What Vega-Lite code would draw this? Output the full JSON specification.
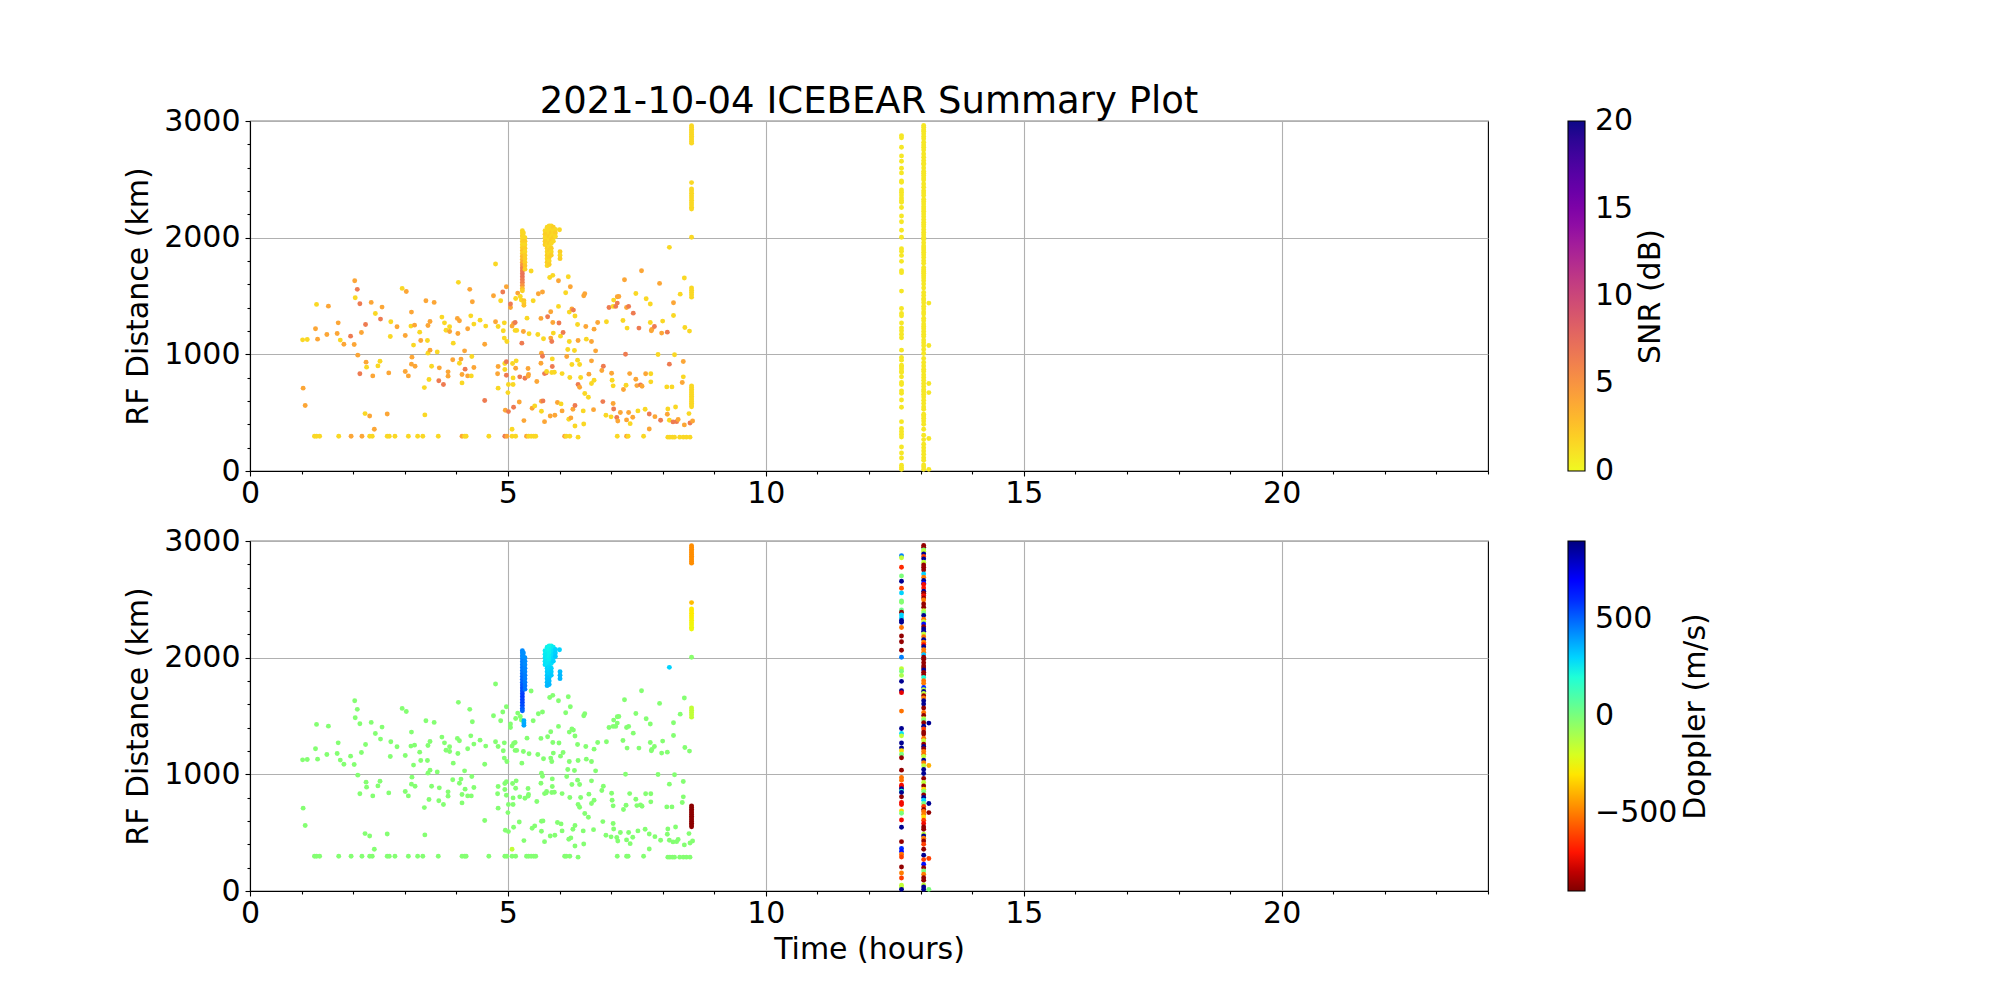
{
"$schema": "https://vega.github.io/schema/vega-lite/v6.json",
"background": "white",
"padding": {"left": 123, "top": 83, "right": 5, "bottom": 5},
"config": {
  "font": "DejaVu Sans",
  "view": {"stroke": "black", "strokeWidth": 1.1},
  "axis": {"labelFont": "DejaVu Sans", "titleFont": "DejaVu Sans", "labelFontSize": 30, "titleFontSize": 30, "titleFontWeight": "normal", "labelColor": "black", "titleColor": "black", "domainColor": "black", "tickColor": "black", "domainWidth": 1.1, "tickWidth": 1.1, "gridColor": "#b0b0b0", "gridWidth": 1.1},
  "legend": {"labelFont": "DejaVu Sans", "labelFontSize": 30, "labelColor": "black"}
},
"title": {"text": "2021-10-04 ICEBEAR Summary Plot", "fontSize": 37, "fontWeight": "normal", "font": "DejaVu Sans", "color": "black", "anchor": "middle", "frame": "group", "offset": -16},
"datasets": {"pts": [
{"t":1.02,"r":1124,"snr":1.5,"dop":-20},{"t":1.11,"r":1127,"snr":1.5,"dop":-20},{"t":1.03,"r":710,"snr":4,"dop":-20},{"t":1.07,"r":561,"snr":4,"dop":-20},{"t":1.27,"r":1219,"snr":4,"dop":-20},{"t":1.29,"r":1428,"snr":1.5,"dop":-20},{"t":1.31,"r":1130,"snr":4,"dop":-20},{"t":1.52,"r":1413,"snr":4,"dop":-20},{"t":1.49,"r":1170,"snr":4,"dop":-20},{"t":1.69,"r":1179,"snr":4,"dop":-20},{"t":1.71,"r":1270,"snr":4,"dop":-20},{"t":1.75,"r":1122,"snr":1.5,"dop":-20},{"t":1.82,"r":1087,"snr":4,"dop":-20},{"t":1.95,"r":1156,"snr":6.5,"dop":-20},{"t":2.02,"r":1084,"snr":4,"dop":-20},{"t":2.03,"r":1631,"snr":4,"dop":-20},{"t":2.08,"r":1557,"snr":6.5,"dop":-20},{"t":2.04,"r":1485,"snr":1.5,"dop":-20},{"t":2.13,"r":1433,"snr":6.5,"dop":-20},{"t":2.16,"r":1187,"snr":4,"dop":-20},{"t":2.24,"r":1256,"snr":6.5,"dop":-20},{"t":2.09,"r":993,"snr":4,"dop":-20},{"t":2.13,"r":833,"snr":6.5,"dop":-20},{"t":2.25,"r":933,"snr":4,"dop":-20},{"t":2.26,"r":890,"snr":1.5,"dop":-20},{"t":2.35,"r":1445,"snr":4,"dop":-20},{"t":2.43,"r":1350,"snr":1.5,"dop":-20},{"t":2.53,"r":1302,"snr":6.5,"dop":-20},{"t":2.56,"r":1405,"snr":4,"dop":-20},{"t":2.52,"r":941,"snr":1.5,"dop":-20},{"t":2.48,"r":901,"snr":1.5,"dop":-20},{"t":2.38,"r":815,"snr":4,"dop":-20},{"t":2.23,"r":492,"snr":1.5,"dop":-20},{"t":2.32,"r":472,"snr":4,"dop":-20},{"t":2.41,"r":358,"snr":4,"dop":-20},{"t":2.66,"r":489,"snr":4,"dop":-20},{"t":2.69,"r":841,"snr":4,"dop":-20},{"t":2.73,"r":1279,"snr":1.5,"dop":-20},{"t":2.72,"r":1153,"snr":1.5,"dop":-20},{"t":2.85,"r":1236,"snr":4,"dop":-20},{"t":2.95,"r":1565,"snr":1.5,"dop":-20},{"t":3.03,"r":1539,"snr":4,"dop":-20},{"t":3.01,"r":1162,"snr":4,"dop":-20},{"t":3.01,"r":853,"snr":4,"dop":-20},{"t":3.07,"r":815,"snr":4,"dop":-20},{"t":3.13,"r":1362,"snr":4,"dop":-20},{"t":3.12,"r":1242,"snr":1.5,"dop":-20},{"t":3.19,"r":1250,"snr":4,"dop":-20},{"t":3.17,"r":1079,"snr":1.5,"dop":-20},{"t":3.14,"r":976,"snr":4,"dop":-20},{"t":3.13,"r":916,"snr":4,"dop":-20},{"t":3.20,"r":898,"snr":4,"dop":-20},{"t":3.29,"r":1190,"snr":1.5,"dop":-20},{"t":3.31,"r":1119,"snr":4,"dop":-20},{"t":3.41,"r":1459,"snr":4,"dop":-20},{"t":3.44,"r":1119,"snr":1.5,"dop":-20},{"t":3.45,"r":1247,"snr":4,"dop":-20},{"t":3.49,"r":1282,"snr":4,"dop":-20},{"t":3.45,"r":1010,"snr":1.5,"dop":-20},{"t":3.49,"r":1036,"snr":4,"dop":-20},{"t":3.47,"r":784,"snr":1.5,"dop":-20},{"t":3.38,"r":715,"snr":1.5,"dop":-20},{"t":3.39,"r":481,"snr":1.5,"dop":-20},{"t":3.52,"r":898,"snr":1.5,"dop":-20},{"t":3.57,"r":1445,"snr":4,"dop":-20},{"t":3.63,"r":1021,"snr":1.5,"dop":-20},{"t":3.67,"r":884,"snr":4,"dop":-20},{"t":3.66,"r":773,"snr":6.5,"dop":-20},{"t":3.75,"r":741,"snr":6.5,"dop":-20},{"t":3.72,"r":1319,"snr":1.5,"dop":-20},{"t":3.77,"r":1270,"snr":1.5,"dop":-20},{"t":3.80,"r":1207,"snr":1.5,"dop":-20},{"t":3.87,"r":1196,"snr":4,"dop":-20},{"t":3.87,"r":1236,"snr":1.5,"dop":-20},{"t":3.84,"r":850,"snr":4,"dop":-20},{"t":3.84,"r":813,"snr":4,"dop":-20},{"t":3.93,"r":953,"snr":4,"dop":-20},{"t":3.94,"r":1096,"snr":1.5,"dop":-20},{"t":4.04,"r":1617,"snr":1.5,"dop":-20},{"t":4.02,"r":1308,"snr":4,"dop":-20},{"t":4.06,"r":1288,"snr":4,"dop":-20},{"t":4.03,"r":1179,"snr":4,"dop":-20},{"t":4.09,"r":959,"snr":4,"dop":-20},{"t":4.06,"r":924,"snr":1.5,"dop":-20},{"t":4.11,"r":827,"snr":4,"dop":-20},{"t":4.11,"r":755,"snr":1.5,"dop":-20},{"t":4.16,"r":1030,"snr":4,"dop":-20},{"t":4.17,"r":873,"snr":6.5,"dop":-20},{"t":4.22,"r":815,"snr":4,"dop":-20},{"t":4.22,"r":1219,"snr":4,"dop":-20},{"t":4.26,"r":1557,"snr":4,"dop":-20},{"t":4.28,"r":1330,"snr":1.5,"dop":-20},{"t":4.31,"r":1451,"snr":4,"dop":-20},{"t":4.29,"r":815,"snr":1.5,"dop":-20},{"t":4.34,"r":887,"snr":4,"dop":-20},{"t":4.34,"r":1259,"snr":1.5,"dop":-20},{"t":4.30,"r":981,"snr":1.5,"dop":-20},{"t":4.46,"r":1293,"snr":1.5,"dop":-20},{"t":4.57,"r":1242,"snr":1.5,"dop":-20},{"t":4.55,"r":1087,"snr":4,"dop":-20},{"t":4.55,"r":604,"snr":6.5,"dop":-20},{"t":4.76,"r":1774,"snr":1.5,"dop":-20},{"t":4.72,"r":1502,"snr":4,"dop":-20},{"t":4.76,"r":1279,"snr":4,"dop":-20},{"t":4.86,"r":1459,"snr":1.5,"dop":-20},{"t":4.81,"r":1239,"snr":1.5,"dop":-20},{"t":4.90,"r":1534,"snr":6.5,"dop":-20},{"t":4.97,"r":1579,"snr":4,"dop":-20},{"t":4.91,"r":1202,"snr":1.5,"dop":-20},{"t":4.93,"r":1139,"snr":1.5,"dop":-20},{"t":4.98,"r":1110,"snr":1.5,"dop":-20},{"t":4.93,"r":1270,"snr":1.5,"dop":-20},{"t":4.81,"r":896,"snr":4,"dop":-20},{"t":4.80,"r":833,"snr":4,"dop":-20},{"t":4.81,"r":710,"snr":1.5,"dop":-20},{"t":4.94,"r":921,"snr":1.5,"dop":-20},{"t":4.97,"r":936,"snr":6.5,"dop":-20},{"t":4.94,"r":870,"snr":1.5,"dop":-20},{"t":4.97,"r":821,"snr":6.5,"dop":-20},{"t":5.01,"r":741,"snr":1.5,"dop":-20},{"t":5.00,"r":672,"snr":1.5,"dop":-20},{"t":4.95,"r":521,"snr":4,"dop":-20},{"t":5.01,"r":509,"snr":6.5,"dop":-20},{"t":5.05,"r":1402,"snr":4,"dop":-20},{"t":5.05,"r":1431,"snr":6.5,"dop":-20},{"t":5.08,"r":1242,"snr":4,"dop":-20},{"t":5.11,"r":1265,"snr":4,"dop":-20},{"t":5.14,"r":1273,"snr":6.5,"dop":-20},{"t":5.14,"r":1205,"snr":1.5,"dop":-20},{"t":5.17,"r":1205,"snr":1.5,"dop":-20},{"t":5.16,"r":944,"snr":1.5,"dop":-20},{"t":5.09,"r":921,"snr":1.5,"dop":-20},{"t":5.15,"r":881,"snr":4,"dop":-20},{"t":5.10,"r":798,"snr":1.5,"dop":-20},{"t":5.10,"r":741,"snr":1.5,"dop":-20},{"t":5.11,"r":547,"snr":6.5,"dop":-20},{"t":5.15,"r":1479,"snr":1.5,"dop":-20},{"t":5.19,"r":1525,"snr":4,"dop":-20},{"t":5.24,"r":1496,"snr":1.5,"dop":-20},{"t":5.26,"r":1465,"snr":1.5,"dop":-20},{"t":5.27,"r":1096,"snr":6.5,"dop":-20},{"t":5.30,"r":1196,"snr":4,"dop":-20},{"t":5.23,"r":807,"snr":6.5,"dop":-20},{"t":5.33,"r":795,"snr":6.5,"dop":-20},{"t":5.31,"r":432,"snr":4,"dop":-20},{"t":5.22,"r":592,"snr":4,"dop":-20},{"t":5.37,"r":1310,"snr":1.5,"dop":-20},{"t":5.40,"r":827,"snr":4,"dop":-20},{"t":5.39,"r":878,"snr":4,"dop":-20},{"t":5.39,"r":813,"snr":4,"dop":-20},{"t":5.41,"r":1176,"snr":1.5,"dop":-20},{"t":5.45,"r":1714,"snr":1.5,"dop":-20},{"t":5.49,"r":1459,"snr":1.5,"dop":-20},{"t":5.47,"r":538,"snr":4,"dop":-20},{"t":5.52,"r":558,"snr":1.5,"dop":-20},{"t":5.56,"r":767,"snr":4,"dop":-20},{"t":5.58,"r":1170,"snr":1.5,"dop":-20},{"t":5.59,"r":1519,"snr":4,"dop":-20},{"t":5.64,"r":1308,"snr":4,"dop":-20},{"t":5.64,"r":924,"snr":4,"dop":-20},{"t":5.65,"r":598,"snr":4,"dop":-20},{"t":5.68,"r":601,"snr":6.5,"dop":-20},{"t":5.65,"r":512,"snr":1.5,"dop":-20},{"t":5.67,"r":1534,"snr":4,"dop":-20},{"t":5.65,"r":1010,"snr":4,"dop":-20},{"t":5.67,"r":984,"snr":6.5,"dop":-20},{"t":5.71,"r":835,"snr":6.5,"dop":-20},{"t":5.69,"r":1133,"snr":1.5,"dop":-20},{"t":5.71,"r":423,"snr":4,"dop":-20},{"t":5.74,"r":841,"snr":6.5,"dop":-20},{"t":5.77,"r":1322,"snr":6.5,"dop":-20},{"t":5.75,"r":853,"snr":1.5,"dop":-20},{"t":5.81,"r":1659,"snr":1.5,"dop":-20},{"t":5.83,"r":1365,"snr":4,"dop":-20},{"t":5.83,"r":1139,"snr":4,"dop":-20},{"t":5.85,"r":1110,"snr":6.5,"dop":-20},{"t":5.87,"r":1677,"snr":1.5,"dop":-20},{"t":5.87,"r":1273,"snr":4,"dop":-20},{"t":5.88,"r":1182,"snr":1.5,"dop":-20},{"t":5.86,"r":896,"snr":6.5,"dop":-20},{"t":5.86,"r":961,"snr":1.5,"dop":-20},{"t":5.85,"r":844,"snr":1.5,"dop":-20},{"t":5.82,"r":472,"snr":4,"dop":-20},{"t":5.90,"r":847,"snr":1.5,"dop":-20},{"t":5.91,"r":478,"snr":4,"dop":-20},{"t":5.98,"r":1631,"snr":4,"dop":-20},{"t":5.98,"r":1411,"snr":1.5,"dop":-20},{"t":5.99,"r":1268,"snr":6.5,"dop":-20},{"t":6.02,"r":1156,"snr":1.5,"dop":-20},{"t":5.96,"r":587,"snr":4,"dop":-20},{"t":6.03,"r":575,"snr":1.5,"dop":-20},{"t":6.05,"r":515,"snr":4,"dop":-20},{"t":6.07,"r":1187,"snr":6.5,"dop":-20},{"t":6.05,"r":835,"snr":1.5,"dop":-20},{"t":6.12,"r":1528,"snr":1.5,"dop":-20},{"t":6.14,"r":981,"snr":4,"dop":-20},{"t":6.16,"r":1041,"snr":1.5,"dop":-20},{"t":6.17,"r":1665,"snr":1.5,"dop":-20},{"t":6.19,"r":1362,"snr":1.5,"dop":-20},{"t":6.21,"r":1579,"snr":4,"dop":-20},{"t":6.19,"r":1110,"snr":1.5,"dop":-20},{"t":6.20,"r":801,"snr":1.5,"dop":-20},{"t":6.24,"r":913,"snr":1.5,"dop":-20},{"t":6.24,"r":1388,"snr":4,"dop":-20},{"t":6.27,"r":1379,"snr":6.5,"dop":-20},{"t":6.29,"r":1033,"snr":1.5,"dop":-20},{"t":6.26,"r":529,"snr":4,"dop":-20},{"t":6.18,"r":443,"snr":1.5,"dop":-20},{"t":6.22,"r":455,"snr":4,"dop":-20},{"t":6.30,"r":561,"snr":6.5,"dop":-20},{"t":6.30,"r":1328,"snr":1.5,"dop":-20},{"t":6.35,"r":1256,"snr":1.5,"dop":-20},{"t":6.36,"r":1119,"snr":4,"dop":-20},{"t":6.35,"r":950,"snr":1.5,"dop":-20},{"t":6.39,"r":913,"snr":1.5,"dop":-20},{"t":6.36,"r":741,"snr":6.5,"dop":-20},{"t":6.39,"r":718,"snr":4,"dop":-20},{"t":6.41,"r":801,"snr":1.5,"dop":-20},{"t":6.30,"r":386,"snr":1.5,"dop":-20},{"t":6.46,"r":515,"snr":1.5,"dop":-20},{"t":6.47,"r":1502,"snr":4,"dop":-20},{"t":6.49,"r":1519,"snr":4,"dop":-20},{"t":6.51,"r":1239,"snr":4,"dop":-20},{"t":6.52,"r":1130,"snr":1.5,"dop":-20},{"t":6.47,"r":403,"snr":1.5,"dop":-20},{"t":6.49,"r":664,"snr":1.5,"dop":-20},{"t":6.56,"r":632,"snr":1.5,"dop":-20},{"t":6.57,"r":830,"snr":4,"dop":-20},{"t":6.62,"r":1110,"snr":4,"dop":-20},{"t":6.62,"r":944,"snr":4,"dop":-20},{"t":6.62,"r":750,"snr":1.5,"dop":-20},{"t":6.67,"r":778,"snr":1.5,"dop":-20},{"t":6.66,"r":526,"snr":4,"dop":-20},{"t":6.67,"r":1216,"snr":4,"dop":-20},{"t":6.70,"r":1030,"snr":4,"dop":-20},{"t":6.74,"r":1273,"snr":4,"dop":-20},{"t":6.82,"r":861,"snr":4,"dop":-20},{"t":6.85,"r":898,"snr":6.5,"dop":-20},{"t":6.84,"r":595,"snr":6.5,"dop":-20},{"t":6.90,"r":478,"snr":1.5,"dop":-20},{"t":6.91,"r":1279,"snr":1.5,"dop":-20},{"t":6.96,"r":1402,"snr":6.5,"dop":-20},{"t":7.01,"r":838,"snr":4,"dop":-20},{"t":7.02,"r":778,"snr":1.5,"dop":-20},{"t":7.04,"r":578,"snr":4,"dop":-20},{"t":7.05,"r":532,"snr":6.5,"dop":-20},{"t":7.00,"r":464,"snr":1.5,"dop":-20},{"t":7.04,"r":1411,"snr":1.5,"dop":-20},{"t":7.05,"r":1465,"snr":1.5,"dop":-20},{"t":7.09,"r":1411,"snr":6.5,"dop":-20},{"t":7.12,"r":1439,"snr":6.5,"dop":-20},{"t":7.12,"r":1493,"snr":4,"dop":-20},{"t":7.04,"r":730,"snr":1.5,"dop":-20},{"t":7.11,"r":458,"snr":6.5,"dop":-20},{"t":7.13,"r":429,"snr":4,"dop":-20},{"t":7.18,"r":501,"snr":4,"dop":-20},{"t":7.15,"r":1496,"snr":4,"dop":-20},{"t":7.23,"r":1290,"snr":1.5,"dop":-20},{"t":7.26,"r":1639,"snr":4,"dop":-20},{"t":7.28,"r":1001,"snr":6.5,"dop":-20},{"t":7.30,"r":1402,"snr":4,"dop":-20},{"t":7.34,"r":1411,"snr":6.5,"dop":-20},{"t":7.31,"r":1225,"snr":1.5,"dop":-20},{"t":7.29,"r":735,"snr":1.5,"dop":-20},{"t":7.24,"r":698,"snr":4,"dop":-20},{"t":7.30,"r":438,"snr":4,"dop":-20},{"t":7.34,"r":501,"snr":4,"dop":-20},{"t":7.36,"r":835,"snr":4,"dop":-20},{"t":7.37,"r":406,"snr":1.5,"dop":-20},{"t":7.42,"r":461,"snr":4,"dop":-20},{"t":7.43,"r":1353,"snr":6.5,"dop":-20},{"t":7.48,"r":1522,"snr":1.5,"dop":-20},{"t":7.48,"r":787,"snr":4,"dop":-20},{"t":7.50,"r":732,"snr":4,"dop":-20},{"t":7.52,"r":515,"snr":1.5,"dop":-20},{"t":7.54,"r":1225,"snr":6.5,"dop":-20},{"t":7.57,"r":738,"snr":6.5,"dop":-20},{"t":7.60,"r":727,"snr":4,"dop":-20},{"t":7.59,"r":1717,"snr":4,"dop":-20},{"t":7.66,"r":529,"snr":1.5,"dop":-20},{"t":7.67,"r":833,"snr":4,"dop":-20},{"t":7.68,"r":1476,"snr":1.5,"dop":-20},{"t":7.74,"r":489,"snr":6.5,"dop":-20},{"t":7.74,"r":360,"snr":4,"dop":-20},{"t":7.76,"r":1431,"snr":1.5,"dop":-20},{"t":7.76,"r":1273,"snr":1.5,"dop":-20},{"t":7.77,"r":833,"snr":1.5,"dop":-20},{"t":7.77,"r":764,"snr":1.5,"dop":-20},{"t":7.78,"r":1202,"snr":4,"dop":-20},{"t":7.79,"r":1213,"snr":4,"dop":-20},{"t":7.84,"r":1239,"snr":6.5,"dop":-20},{"t":7.85,"r":466,"snr":4,"dop":-20},{"t":7.91,"r":999,"snr":1.5,"dop":-20},{"t":7.94,"r":1608,"snr":4,"dop":-20},{"t":7.96,"r":435,"snr":6.5,"dop":-20},{"t":7.98,"r":1182,"snr":4,"dop":-20},{"t":8.00,"r":1285,"snr":1.5,"dop":-20},{"t":8.08,"r":721,"snr":1.5,"dop":-20},{"t":8.09,"r":1190,"snr":6.5,"dop":-20},{"t":8.09,"r":486,"snr":4,"dop":-20},{"t":8.10,"r":532,"snr":1.5,"dop":-20},{"t":8.13,"r":916,"snr":6.5,"dop":-20},{"t":8.13,"r":435,"snr":1.5,"dop":-20},{"t":8.18,"r":721,"snr":1.5,"dop":-20},{"t":8.20,"r":421,"snr":6.5,"dop":-20},{"t":8.21,"r":1333,"snr":1.5,"dop":-20},{"t":8.21,"r":1442,"snr":4,"dop":-20},{"t":8.23,"r":996,"snr":1.5,"dop":-20},{"t":8.25,"r":549,"snr":1.5,"dop":-20},{"t":8.27,"r":423,"snr":6.5,"dop":-20},{"t":8.30,"r":441,"snr":4,"dop":-20},{"t":8.34,"r":1516,"snr":1.5,"dop":-20},{"t":8.38,"r":758,"snr":4,"dop":-20},{"t":8.40,"r":807,"snr":1.5,"dop":-20},{"t":8.40,"r":938,"snr":4,"dop":-20},{"t":8.42,"r":1654,"snr":1.5,"dop":-20},{"t":8.43,"r":1230,"snr":1.5,"dop":-20},{"t":8.42,"r":395,"snr":4,"dop":-20},{"t":8.51,"r":492,"snr":1.5,"dop":-20},{"t":8.52,"r":1199,"snr":1.5,"dop":-20},{"t":8.53,"r":412,"snr":6.5,"dop":-20},{"t":8.58,"r":429,"snr":4,"dop":-20},{"t":8.13,"r":1917,"snr":1.5,"dop":300},{"t":5.08,"r":358,"snr":1.5,"dop":-150},
{"t":1.25,"r":298,"snr":1.5,"dop":-20},{"t":1.29,"r":298,"snr":1.5,"dop":-20},{"t":1.35,"r":298,"snr":1.5,"dop":-20},{"t":1.72,"r":298,"snr":1.5,"dop":-20},{"t":1.96,"r":298,"snr":4,"dop":-20},{"t":2.17,"r":298,"snr":4,"dop":-20},{"t":2.32,"r":298,"snr":1.5,"dop":-20},{"t":2.37,"r":298,"snr":1.5,"dop":-20},{"t":2.66,"r":298,"snr":1.5,"dop":-20},{"t":2.70,"r":298,"snr":1.5,"dop":-20},{"t":2.81,"r":298,"snr":1.5,"dop":-20},{"t":3.07,"r":298,"snr":1.5,"dop":-20},{"t":3.25,"r":298,"snr":1.5,"dop":-20},{"t":3.35,"r":298,"snr":1.5,"dop":-20},{"t":3.65,"r":298,"snr":1.5,"dop":-20},{"t":4.11,"r":298,"snr":4,"dop":-20},{"t":4.16,"r":298,"snr":1.5,"dop":-20},{"t":4.19,"r":298,"snr":1.5,"dop":-20},{"t":4.63,"r":298,"snr":1.5,"dop":-20},{"t":4.94,"r":298,"snr":6.5,"dop":-20},{"t":4.98,"r":298,"snr":4,"dop":-20},{"t":5.08,"r":298,"snr":1.5,"dop":-20},{"t":5.15,"r":298,"snr":1.5,"dop":-20},{"t":5.36,"r":298,"snr":4,"dop":-20},{"t":5.40,"r":298,"snr":1.5,"dop":-20},{"t":5.45,"r":298,"snr":1.5,"dop":-20},{"t":5.50,"r":298,"snr":1.5,"dop":-20},{"t":5.54,"r":298,"snr":1.5,"dop":-20},{"t":6.10,"r":298,"snr":4,"dop":-20},{"t":6.13,"r":298,"snr":1.5,"dop":-20},{"t":6.20,"r":298,"snr":1.5,"dop":-20},{"t":6.36,"r":290,"snr":1.5,"dop":-20},{"t":7.12,"r":298,"snr":1.5,"dop":-20},{"t":7.30,"r":298,"snr":4,"dop":-20},{"t":7.33,"r":298,"snr":1.5,"dop":-20},{"t":7.63,"r":298,"snr":1.5,"dop":-20},{"t":8.10,"r":290,"snr":1.5,"dop":-20},{"t":8.14,"r":290,"snr":1.5,"dop":-20},{"t":8.19,"r":290,"snr":1.5,"dop":-20},{"t":8.23,"r":290,"snr":1.5,"dop":-20},{"t":8.33,"r":290,"snr":1.5,"dop":-20},{"t":8.40,"r":290,"snr":1.5,"dop":-20},{"t":8.46,"r":290,"snr":1.5,"dop":-20},{"t":8.53,"r":290,"snr":1.5,"dop":-20},
{"t":5.28,"r":2060,"snr":1.5,"dop":430},{"t":5.28,"r":2040,"snr":1.5,"dop":430},{"t":5.28,"r":2015,"snr":2,"dop":440},{"t":5.28,"r":1990,"snr":1.5,"dop":440},{"t":5.28,"r":1965,"snr":2,"dop":450},{"t":5.28,"r":1940,"snr":1.5,"dop":450},{"t":5.28,"r":1915,"snr":2,"dop":460},{"t":5.28,"r":1890,"snr":2.5,"dop":460},{"t":5.28,"r":1865,"snr":2,"dop":470},{"t":5.28,"r":1840,"snr":3,"dop":480},{"t":5.28,"r":1815,"snr":3,"dop":490},{"t":5.28,"r":1790,"snr":4,"dop":500},{"t":5.28,"r":1765,"snr":5,"dop":520},{"t":5.28,"r":1740,"snr":6,"dop":530},{"t":5.28,"r":1715,"snr":6.5,"dop":540},{"t":5.28,"r":1690,"snr":7,"dop":560},{"t":5.28,"r":1665,"snr":7,"dop":570},{"t":5.28,"r":1640,"snr":6.5,"dop":560},{"t":5.28,"r":1615,"snr":6,"dop":550},{"t":5.28,"r":1590,"snr":5,"dop":540},{"t":5.28,"r":1565,"snr":3,"dop":520},{"t":5.28,"r":1545,"snr":2,"dop":500},
{"t":5.33,"r":2000,"snr":1.5,"dop":420},{"t":5.33,"r":1970,"snr":2,"dop":430},{"t":5.33,"r":1940,"snr":1.5,"dop":430},{"t":5.33,"r":1910,"snr":2,"dop":440},{"t":5.33,"r":1880,"snr":1.5,"dop":440},{"t":5.33,"r":1850,"snr":2,"dop":450},{"t":5.33,"r":1820,"snr":2,"dop":450},{"t":5.33,"r":1790,"snr":2,"dop":460},{"t":5.33,"r":1760,"snr":2.5,"dop":470},{"t":5.33,"r":1730,"snr":2,"dop":470},{"t":5.30,"r":2040,"snr":1.5,"dop":420},{"t":5.30,"r":2010,"snr":1.5,"dop":420},{"t":5.31,"r":1460,"snr":2.5,"dop":370},{"t":5.31,"r":1440,"snr":2,"dop":370},{"t":5.31,"r":1420,"snr":2.5,"dop":380},
{"t":5.72,"r":2060,"snr":1.5,"dop":260},{"t":5.72,"r":2030,"snr":2,"dop":260},{"t":5.72,"r":2000,"snr":1.5,"dop":270},{"t":5.72,"r":1970,"snr":2,"dop":270},{"t":5.72,"r":1940,"snr":2,"dop":280},{"t":5.76,"r":2090,"snr":1.5,"dop":250},{"t":5.76,"r":2060,"snr":1.5,"dop":250},{"t":5.76,"r":2030,"snr":2,"dop":260},{"t":5.76,"r":2000,"snr":1.5,"dop":260},{"t":5.76,"r":1970,"snr":2,"dop":270},{"t":5.76,"r":1940,"snr":1.5,"dop":270},{"t":5.80,"r":2100,"snr":1.5,"dop":240},{"t":5.80,"r":2070,"snr":1.5,"dop":240},{"t":5.80,"r":2040,"snr":1.5,"dop":250},{"t":5.80,"r":2010,"snr":2,"dop":250},{"t":5.80,"r":1980,"snr":1.5,"dop":260},{"t":5.80,"r":1950,"snr":2,"dop":270},{"t":5.84,"r":2100,"snr":1.5,"dop":240},{"t":5.84,"r":2070,"snr":1.5,"dop":250},{"t":5.84,"r":2040,"snr":2,"dop":250},{"t":5.84,"r":2010,"snr":1.5,"dop":260},{"t":5.84,"r":1980,"snr":2,"dop":260},{"t":5.84,"r":1950,"snr":1.5,"dop":280},{"t":5.88,"r":2090,"snr":2,"dop":260},{"t":5.88,"r":2060,"snr":1.5,"dop":270},{"t":5.88,"r":2030,"snr":1.5,"dop":280},{"t":5.88,"r":2000,"snr":2,"dop":290},{"t":5.88,"r":1970,"snr":1.5,"dop":300},{"t":5.92,"r":2070,"snr":1.5,"dop":300},{"t":5.92,"r":2040,"snr":2,"dop":310},{"t":5.92,"r":2010,"snr":1.5,"dop":320},{"t":5.76,"r":1910,"snr":2,"dop":300},{"t":5.76,"r":1880,"snr":1.5,"dop":310},{"t":5.76,"r":1850,"snr":2,"dop":320},{"t":5.76,"r":1820,"snr":1.5,"dop":330},{"t":5.76,"r":1790,"snr":2,"dop":340},{"t":5.76,"r":1760,"snr":1.5,"dop":350},{"t":5.80,"r":1920,"snr":1.5,"dop":290},{"t":5.80,"r":1890,"snr":2,"dop":300},{"t":5.80,"r":1860,"snr":1.5,"dop":310},{"t":5.80,"r":1830,"snr":2,"dop":330},{"t":5.80,"r":1800,"snr":1.5,"dop":340},{"t":5.80,"r":1770,"snr":2,"dop":350},{"t":5.84,"r":1910,"snr":2,"dop":300},{"t":5.84,"r":1880,"snr":1.5,"dop":310},{"t":5.84,"r":1850,"snr":2,"dop":320},{"t":6.00,"r":2068,"snr":1.5,"dop":300},{"t":6.01,"r":1880,"snr":2,"dop":340},{"t":6.01,"r":1850,"snr":1.5,"dop":350},{"t":6.01,"r":1820,"snr":2,"dop":350},
{"t":8.56,"r":2960,"snr":1.5,"dop":-470},{"t":8.56,"r":2945,"snr":1.5,"dop":-470},{"t":8.56,"r":2930,"snr":1.5,"dop":-470},{"t":8.56,"r":2915,"snr":1.5,"dop":-470},{"t":8.56,"r":2900,"snr":1.5,"dop":-470},{"t":8.56,"r":2885,"snr":1.5,"dop":-470},{"t":8.56,"r":2870,"snr":1.5,"dop":-470},{"t":8.56,"r":2855,"snr":1.5,"dop":-470},{"t":8.56,"r":2840,"snr":1.5,"dop":-470},{"t":8.56,"r":2825,"snr":1.5,"dop":-470},{"t":8.56,"r":2810,"snr":1.5,"dop":-470},{"t":8.56,"r":2472,"snr":1.5,"dop":-380},{"t":8.56,"r":2418,"snr":1.5,"dop":-290},{"t":8.56,"r":2400,"snr":1.5,"dop":-290},{"t":8.56,"r":2380,"snr":1.5,"dop":-290},{"t":8.56,"r":2360,"snr":1.5,"dop":-290},{"t":8.56,"r":2340,"snr":1.5,"dop":-280},{"t":8.56,"r":2320,"snr":1.5,"dop":-270},{"t":8.56,"r":2300,"snr":1.5,"dop":-260},{"t":8.56,"r":2280,"snr":1.5,"dop":-260},{"t":8.56,"r":2260,"snr":1.5,"dop":-250},{"t":8.56,"r":2246,"snr":1.5,"dop":-250},{"t":8.56,"r":2003,"snr":1.5,"dop":-30},{"t":8.56,"r":1568,"snr":1.5,"dop":-150},{"t":8.56,"r":1550,"snr":1.5,"dop":-150},{"t":8.56,"r":1530,"snr":1.5,"dop":-150},{"t":8.56,"r":1510,"snr":1.5,"dop":-150},{"t":8.56,"r":1490,"snr":1.5,"dop":-150},{"t":8.56,"r":730,"snr":1.5,"dop":-880},{"t":8.56,"r":715,"snr":1.5,"dop":-880},{"t":8.56,"r":700,"snr":1.5,"dop":-880},{"t":8.56,"r":685,"snr":1.5,"dop":-880},{"t":8.56,"r":670,"snr":1.5,"dop":-880},{"t":8.56,"r":655,"snr":1.5,"dop":-880},{"t":8.56,"r":640,"snr":1.5,"dop":-880},{"t":8.56,"r":625,"snr":1.5,"dop":-880},{"t":8.56,"r":610,"snr":1.5,"dop":-880},{"t":8.56,"r":595,"snr":1.5,"dop":-880},{"t":8.56,"r":580,"snr":1.5,"dop":-880},{"t":8.56,"r":565,"snr":1.5,"dop":-880},{"t":8.56,"r":550,"snr":1.5,"dop":-880},
{"t":12.63,"r":2875,"snr":0.8,"dop":450},{"t":12.63,"r":2856,"snr":0.8,"dop":-150},{"t":12.63,"r":2775,"snr":0.8,"dop":-660},{"t":12.63,"r":2701,"snr":0.8,"dop":0},{"t":12.63,"r":2655,"snr":0.8,"dop":870},{"t":12.63,"r":2595,"snr":0.8,"dop":-620},{"t":12.63,"r":2555,"snr":0.8,"dop":300},{"t":12.63,"r":2486,"snr":0.8,"dop":0},{"t":12.63,"r":2475,"snr":0.8,"dop":-20},{"t":12.63,"r":2409,"snr":0.8,"dop":30},{"t":12.63,"r":2389,"snr":0.8,"dop":-870},{"t":12.63,"r":2366,"snr":0.8,"dop":300},{"t":12.63,"r":2341,"snr":0.8,"dop":300},{"t":12.63,"r":2318,"snr":0.8,"dop":870},{"t":12.63,"r":2303,"snr":0.8,"dop":870},{"t":12.63,"r":2258,"snr":0.8,"dop":-520},{"t":12.63,"r":2186,"snr":0.8,"dop":-870},{"t":12.63,"r":2137,"snr":0.8,"dop":-870},{"t":12.63,"r":2063,"snr":0.8,"dop":-870},{"t":12.63,"r":2003,"snr":0.8,"dop":450},{"t":12.63,"r":1906,"snr":0.8,"dop":-150},{"t":12.63,"r":1883,"snr":0.8,"dop":0},{"t":12.63,"r":1848,"snr":0.8,"dop":-100},{"t":12.63,"r":1797,"snr":0.8,"dop":870},{"t":12.63,"r":1717,"snr":0.8,"dop":870},{"t":12.63,"r":1700,"snr":0.8,"dop":-740},{"t":12.63,"r":1542,"snr":0.8,"dop":-520},{"t":12.63,"r":1393,"snr":0.8,"dop":870},{"t":12.63,"r":1350,"snr":0.8,"dop":280},{"t":12.63,"r":1330,"snr":0.8,"dop":-150},{"t":12.63,"r":1268,"snr":0.8,"dop":870},{"t":12.63,"r":1227,"snr":0.8,"dop":870},{"t":12.63,"r":1202,"snr":0.8,"dop":-320},{"t":12.63,"r":1173,"snr":0.8,"dop":0},{"t":12.63,"r":1142,"snr":0.8,"dop":-870},{"t":12.63,"r":1036,"snr":0.8,"dop":-870},{"t":12.63,"r":973,"snr":0.8,"dop":-520},{"t":12.63,"r":950,"snr":0.8,"dop":-520},{"t":12.63,"r":907,"snr":0.8,"dop":-720},{"t":12.63,"r":893,"snr":0.8,"dop":-720},{"t":12.63,"r":876,"snr":0.8,"dop":870},{"t":12.63,"r":856,"snr":0.8,"dop":200},{"t":12.63,"r":844,"snr":0.8,"dop":870},{"t":12.63,"r":807,"snr":0.8,"dop":-870},{"t":12.63,"r":758,"snr":0.8,"dop":-720},{"t":12.63,"r":741,"snr":0.8,"dop":-720},{"t":12.63,"r":687,"snr":0.8,"dop":-320},{"t":12.63,"r":667,"snr":0.8,"dop":0},{"t":12.63,"r":609,"snr":0.8,"dop":-720},{"t":12.63,"r":546,"snr":0.8,"dop":870},{"t":12.63,"r":423,"snr":0.8,"dop":-870},{"t":12.63,"r":365,"snr":0.8,"dop":600},{"t":12.63,"r":338,"snr":0.8,"dop":650},{"t":12.63,"r":315,"snr":0.8,"dop":-520},{"t":12.63,"r":292,"snr":0.8,"dop":-620},{"t":12.63,"r":206,"snr":0.8,"dop":-870},{"t":12.63,"r":154,"snr":0.8,"dop":-500},{"t":12.63,"r":112,"snr":0.8,"dop":-620},{"t":12.63,"r":49,"snr":0.8,"dop":-150},{"t":12.63,"r":29,"snr":0.8,"dop":-150},{"t":12.63,"r":14,"snr":0.8,"dop":870},
{"t":13.06,"r":2961,"snr":0.8,"dop":-870},{"t":13.06,"r":2947,"snr":0.8,"dop":-870},{"t":13.06,"r":2924,"snr":0.8,"dop":0},{"t":13.06,"r":2913,"snr":0.8,"dop":-150},{"t":13.06,"r":2890,"snr":0.8,"dop":870},{"t":13.06,"r":2867,"snr":0.8,"dop":-620},{"t":13.06,"r":2847,"snr":0.8,"dop":870},{"t":13.06,"r":2818,"snr":0.8,"dop":-150},{"t":13.06,"r":2795,"snr":0.8,"dop":-870},{"t":13.06,"r":2775,"snr":0.8,"dop":-860},{"t":13.06,"r":2752,"snr":0.8,"dop":-870},{"t":13.06,"r":2718,"snr":0.8,"dop":300},{"t":13.06,"r":2690,"snr":0.8,"dop":-500},{"t":13.06,"r":2661,"snr":0.8,"dop":870},{"t":13.06,"r":2638,"snr":0.8,"dop":650},{"t":13.06,"r":2627,"snr":0.8,"dop":-720},{"t":13.06,"r":2598,"snr":0.8,"dop":-700},{"t":13.06,"r":2569,"snr":0.8,"dop":870},{"t":13.06,"r":2552,"snr":0.8,"dop":-870},{"t":13.06,"r":2532,"snr":0.8,"dop":-720},{"t":13.06,"r":2512,"snr":0.8,"dop":-860},{"t":13.06,"r":2495,"snr":0.8,"dop":-500},{"t":13.06,"r":2461,"snr":0.8,"dop":-870},{"t":13.06,"r":2432,"snr":0.8,"dop":-870},{"t":13.06,"r":2403,"snr":0.8,"dop":-150},{"t":13.06,"r":2383,"snr":0.8,"dop":0},{"t":13.06,"r":2361,"snr":0.8,"dop":870},{"t":13.06,"r":2329,"snr":0.8,"dop":-520},{"t":13.06,"r":2309,"snr":0.8,"dop":-150},{"t":13.06,"r":2289,"snr":0.8,"dop":650},{"t":13.06,"r":2266,"snr":0.8,"dop":-870},{"t":13.06,"r":2246,"snr":0.8,"dop":870},{"t":13.06,"r":2226,"snr":0.8,"dop":860},{"t":13.06,"r":2203,"snr":0.8,"dop":-150},{"t":13.06,"r":2180,"snr":0.8,"dop":-520},{"t":13.06,"r":2155,"snr":0.8,"dop":870},{"t":13.06,"r":2132,"snr":0.8,"dop":-500},{"t":13.06,"r":2112,"snr":0.8,"dop":-720},{"t":13.06,"r":2094,"snr":0.8,"dop":870},{"t":13.06,"r":2069,"snr":0.8,"dop":-500},{"t":13.06,"r":2046,"snr":0.8,"dop":-520},{"t":13.06,"r":2026,"snr":0.8,"dop":330},{"t":13.06,"r":2003,"snr":0.8,"dop":-870},{"t":13.06,"r":1986,"snr":0.8,"dop":-870},{"t":13.06,"r":1957,"snr":0.8,"dop":-870},{"t":13.06,"r":1928,"snr":0.8,"dop":-870},{"t":13.06,"r":1911,"snr":0.8,"dop":-870},{"t":13.06,"r":1894,"snr":0.8,"dop":870},{"t":13.06,"r":1874,"snr":0.8,"dop":-870},{"t":13.06,"r":1854,"snr":0.8,"dop":-870},{"t":13.06,"r":1831,"snr":0.8,"dop":200},{"t":13.06,"r":1803,"snr":0.8,"dop":-520},{"t":13.06,"r":1780,"snr":0.8,"dop":-500},{"t":13.06,"r":1745,"snr":0.8,"dop":600},{"t":13.06,"r":1725,"snr":0.8,"dop":-150},{"t":13.06,"r":1711,"snr":0.8,"dop":870},{"t":13.06,"r":1694,"snr":0.8,"dop":-150},{"t":13.06,"r":1674,"snr":0.8,"dop":-870},{"t":13.06,"r":1654,"snr":0.8,"dop":-500},{"t":13.06,"r":1631,"snr":0.8,"dop":870},{"t":13.06,"r":1602,"snr":0.8,"dop":870},{"t":13.06,"r":1568,"snr":0.8,"dop":-870},{"t":13.06,"r":1531,"snr":0.8,"dop":-520},{"t":13.06,"r":1505,"snr":0.8,"dop":-870},{"t":13.06,"r":1476,"snr":0.8,"dop":-150},{"t":13.06,"r":1465,"snr":0.8,"dop":0},{"t":13.06,"r":1442,"snr":0.8,"dop":-870},{"t":13.06,"r":1413,"snr":0.8,"dop":870},{"t":13.06,"r":1388,"snr":0.8,"dop":-620},{"t":13.06,"r":1362,"snr":0.8,"dop":-870},{"t":13.06,"r":1345,"snr":0.8,"dop":-870},{"t":13.06,"r":1310,"snr":0.8,"dop":-520},{"t":13.06,"r":1288,"snr":0.8,"dop":-150},{"t":13.06,"r":1259,"snr":0.8,"dop":-870},{"t":13.06,"r":1239,"snr":0.8,"dop":870},{"t":13.06,"r":1219,"snr":0.8,"dop":-870},{"t":13.06,"r":1196,"snr":0.8,"dop":-500},{"t":13.06,"r":1173,"snr":0.8,"dop":-520},{"t":13.06,"r":1153,"snr":0.8,"dop":-150},{"t":13.06,"r":1122,"snr":0.8,"dop":870},{"t":13.06,"r":1099,"snr":0.8,"dop":-500},{"t":13.06,"r":1073,"snr":0.8,"dop":-150},{"t":13.06,"r":1041,"snr":0.8,"dop":870},{"t":13.06,"r":1007,"snr":0.8,"dop":870},{"t":13.06,"r":964,"snr":0.8,"dop":-870},{"t":13.06,"r":930,"snr":0.8,"dop":-150},{"t":13.06,"r":901,"snr":0.8,"dop":-870},{"t":13.06,"r":873,"snr":0.8,"dop":-320},{"t":13.06,"r":853,"snr":0.8,"dop":0},{"t":13.06,"r":824,"snr":0.8,"dop":-870},{"t":13.06,"r":801,"snr":0.8,"dop":870},{"t":13.06,"r":778,"snr":0.8,"dop":300},{"t":13.06,"r":750,"snr":0.8,"dop":0},{"t":13.06,"r":724,"snr":0.8,"dop":-620},{"t":13.06,"r":698,"snr":0.8,"dop":-870},{"t":13.06,"r":681,"snr":0.8,"dop":-520},{"t":13.06,"r":658,"snr":0.8,"dop":-500},{"t":13.06,"r":635,"snr":0.8,"dop":-320},{"t":13.06,"r":607,"snr":0.8,"dop":-620},{"t":13.06,"r":578,"snr":0.8,"dop":-720},{"t":13.06,"r":549,"snr":0.8,"dop":-870},{"t":13.06,"r":529,"snr":0.8,"dop":-870},{"t":13.06,"r":486,"snr":0.8,"dop":-150},{"t":13.06,"r":472,"snr":0.8,"dop":870},{"t":13.06,"r":452,"snr":0.8,"dop":-500},{"t":13.06,"r":429,"snr":0.8,"dop":-870},{"t":13.06,"r":401,"snr":0.8,"dop":-620},{"t":13.06,"r":358,"snr":0.8,"dop":-870},{"t":13.06,"r":306,"snr":0.8,"dop":870},{"t":13.06,"r":269,"snr":0.8,"dop":-620},{"t":13.06,"r":229,"snr":0.8,"dop":650},{"t":13.06,"r":200,"snr":0.8,"dop":-870},{"t":13.06,"r":172,"snr":0.8,"dop":0},{"t":13.06,"r":143,"snr":0.8,"dop":-500},{"t":13.06,"r":114,"snr":0.8,"dop":-870},{"t":13.06,"r":92,"snr":0.8,"dop":-870},{"t":13.06,"r":52,"snr":0.8,"dop":-150},{"t":13.06,"r":34,"snr":0.8,"dop":870},{"t":13.06,"r":14,"snr":0.8,"dop":870},
{"t":13.16,"r":1439,"snr":0.8,"dop":870},{"t":13.16,"r":1076,"snr":0.8,"dop":-400},{"t":13.16,"r":750,"snr":0.8,"dop":870},{"t":13.16,"r":672,"snr":0.8,"dop":-870},{"t":13.16,"r":278,"snr":0.8,"dop":-620},{"t":13.16,"r":14,"snr":0.8,"dop":0}
]},
"vconcat": [
{
  "width": 1238, "height": 350,
  "data": {"name": "pts"},
  "layer": [
    {"mark": {"type": "circle", "size": 24, "opacity": 1},
     "encoding": {
       "x": {"field": "t", "type": "quantitative", "scale": {"domain": [0, 24], "nice": false, "zero": false},
             "axis": {"title": null, "values": [0,1,2,3,4,5,6,7,8,9,10,11,12,13,14,15,16,17,18,19,20,21,22,23,24], "format": "d", "labelExpr": "datum.value % 5 === 0 ? datum.label : ''", "tickSize": {"condition": {"test": "datum.value % 5 === 0", "value": 5}, "value": 3}, "gridOpacity": {"condition": {"test": "datum.value % 5 === 0", "value": 1}, "value": 0}, "labelPadding": 2, "labelFlush": false, "labelOverlap": false}},
       "y": {"field": "r", "type": "quantitative", "scale": {"domain": [0, 3000], "nice": false},
             "axis": {"title": "RF Distance (km)", "values": [0,200,400,600,800,1000,1200,1400,1600,1800,2000,2200,2400,2600,2800,3000], "format": "d", "labelExpr": "datum.value % 1000 === 0 ? datum.label : ''", "tickSize": {"condition": {"test": "datum.value % 1000 === 0", "value": 5}, "value": 3}, "gridOpacity": {"condition": {"test": "datum.value % 1000 === 0", "value": 1}, "value": 0}, "labelPadding": 5, "labelFlush": false, "labelOverlap": false, "titlePadding": 10}},
       "color": {"field": "snr", "type": "quantitative", "scale": {"scheme": "plasma", "reverse": true, "domain": [-0.01, 20.01]},
                 "legend": {"type": "gradient", "orient": "none", "legendX": 1318, "legendY": 0, "direction": "vertical", "gradientLength": 350, "gradientThickness": 17, "title": null, "values": [0, 5, 10, 15, 20], "format": "d", "labelOffset": 10, "labelBaseline": "middle", "gradientStrokeColor": "black", "gradientStrokeWidth": 1.1, "padding": 0}}
     }},
    {"mark": {"type": "circle", "opacity": 0},
     "encoding": {
       "y": {"field": "r", "type": "quantitative", "scale": {"domain": [0, 3000], "nice": false},
             "axis": {"orient": "right", "title": "SNR (dB)", "labels": false, "ticks": false, "domain": false, "grid": false, "titleAngle": 270, "titleBaseline": "middle", "titlePadding": 162}}
     }}
  ],
  "resolve": {"scale": {"y": "independent"}, "axis": {"y": "independent"}}
},
{
  "width": 1238, "height": 350,
  "data": {"name": "pts"},
  "layer": [
    {"mark": {"type": "circle", "size": 24, "opacity": 1},
     "encoding": {
       "x": {"field": "t", "type": "quantitative", "scale": {"domain": [0, 24], "nice": false, "zero": false},
             "axis": {"title": "Time (hours)", "values": [0,1,2,3,4,5,6,7,8,9,10,11,12,13,14,15,16,17,18,19,20,21,22,23,24], "format": "d", "labelExpr": "datum.value % 5 === 0 ? datum.label : ''", "tickSize": {"condition": {"test": "datum.value % 5 === 0", "value": 5}, "value": 3}, "gridOpacity": {"condition": {"test": "datum.value % 5 === 0", "value": 1}, "value": 0}, "labelPadding": 2, "labelFlush": false, "labelOverlap": false, "titlePadding": 6}},
       "y": {"field": "r", "type": "quantitative", "scale": {"domain": [0, 3000], "nice": false},
             "axis": {"title": "RF Distance (km)", "values": [0,200,400,600,800,1000,1200,1400,1600,1800,2000,2200,2400,2600,2800,3000], "format": "d", "labelExpr": "datum.value % 1000 === 0 ? datum.label : ''", "tickSize": {"condition": {"test": "datum.value % 1000 === 0", "value": 5}, "value": 3}, "gridOpacity": {"condition": {"test": "datum.value % 1000 === 0", "value": 1}, "value": 0}, "labelPadding": 5, "labelFlush": false, "labelOverlap": false, "titlePadding": 10}},
       "color": {"field": "dop", "type": "quantitative",
                 "scale": {"domain": [-900, -738, -702, -288, -225, 0, 225, 288, 675, 702, 900], "range": ["#800000", "#e80000", "#ff1300", "#ffec00", "#e2ff15", "#7bff7b", "#14ffe2", "#00dbff", "#0000ff", "#0000ff", "#00007f"], "interpolate": "rgb"},
                 "legend": {"type": "gradient", "orient": "none", "legendX": 1318, "legendY": 0, "direction": "vertical", "gradientLength": 350, "gradientThickness": 17, "title": null, "values": [-500, 0, 500], "format": "d", "labelOffset": 10, "labelBaseline": "middle", "gradientStrokeColor": "black", "gradientStrokeWidth": 1.1, "padding": 0}}
     }},
    {"mark": {"type": "circle", "opacity": 0},
     "encoding": {
       "y": {"field": "r", "type": "quantitative", "scale": {"domain": [0, 3000], "nice": false},
             "axis": {"orient": "right", "title": "Doppler (m/s)", "labels": false, "ticks": false, "domain": false, "grid": false, "titleAngle": 270, "titleBaseline": "middle", "titlePadding": 207}}
     }}
  ],
  "resolve": {"scale": {"y": "independent"}, "axis": {"y": "independent"}}
}
],
"spacing": 70,
"bounds": "flush",
"resolve": {"scale": {"color": "independent"}, "legend": {"color": "independent"}}
}
